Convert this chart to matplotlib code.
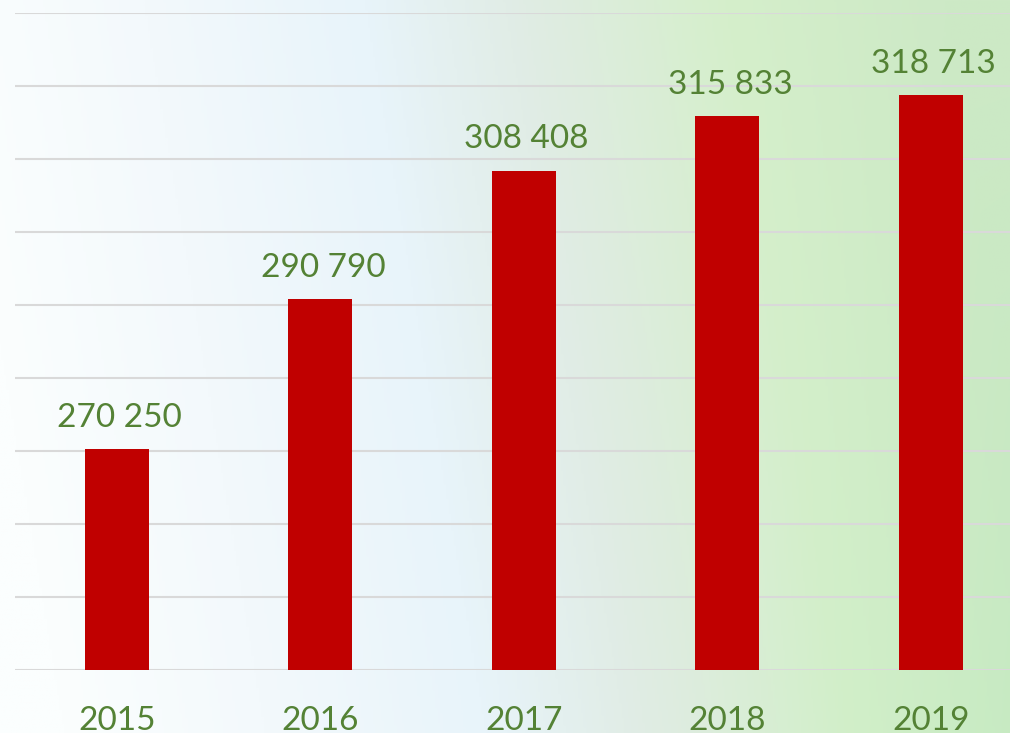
import numpy as np
import matplotlib
matplotlib.use("Agg")
import matplotlib.pyplot as plt
from matplotlib.colors import LinearSegmentedColormap

years = ["2015", "2016", "2017", "2018", "2019"]
values = [270250, 290790, 308408, 315833, 318713]

BAR_COLOR = "#C00000"
TEXT_COLOR = "#548235"
GRID_COLOR = "#d9d9d9"

plt.rcParams['font.family'] = ['Lato', 'DejaVu Sans']

fig = plt.figure(figsize=(10.10, 7.33), dpi=100)

# soft background: white-blue on the left, light green on the right
bg = fig.add_axes([0, 0, 1, 1], zorder=0)
bg.set_axis_off()
cmap = LinearSegmentedColormap.from_list(
    "bg", [(0.0, "#fbfefe"), (0.2, "#f3f9fc"), (0.42, "#e8f4fa"),
           (0.58, "#e0ece4"), (0.78, "#d5efcb"), (1.0, "#cde9c6")])
gx = np.linspace(0, 1, 400)
gy = np.linspace(0, 1, 300)
X, Y = np.meshgrid(gx, gy)
# diagonal: greener towards the top
img = cmap(np.clip(X + (0.5 - Y) * 0.12, 0, 1))
# slightly deeper green towards the bottom right
shade = np.clip((X - 0.7) / 0.3, 0, 1) * Y * 0.03
img[..., 0] -= shade
img[..., 2] -= shade * 0.6
bg.imshow(np.clip(img, 0, 1), aspect="auto", extent=[0, 1, 0, 1], origin="upper")

ax = fig.add_axes([15 / 1010, 63 / 733, 995 / 1010, 657 / 733], zorder=1)
ax.patch.set_alpha(0)

x = np.arange(len(years))
bars = ax.bar(x, values, width=0.315, color=BAR_COLOR, zorder=3)

ax.set_ylim(240000, 330000)
ax.set_xlim(-0.5, 4.39)
ax.set_yticks(np.arange(240000, 330001, 10000))
ax.yaxis.grid(True, color=GRID_COLOR, linewidth=1.5, zorder=0)
ax.set_axisbelow(True)
ax.tick_params(left=False, bottom=False, labelleft=False, labelbottom=False)
for s in ax.spines.values():
    s.set_visible(False)

for xi, v in zip(x, values):
    label = f"{v:,}".replace(",", " ")
    ax.annotate(label, (xi, v), xytext=(2, 16), textcoords="offset points",
                ha="center", va="baseline", fontsize=24, color=TEXT_COLOR)

# year labels sit at the bottom edge (partly cropped, as in the original)
for xi, yr in zip(x, years):
    ax.text(xi, -0.091, yr, transform=ax.get_xaxis_transform(),
            ha="center", va="baseline", fontsize=24, color=TEXT_COLOR,
            clip_on=False)

fig.savefig("out.png", dpi=100)
